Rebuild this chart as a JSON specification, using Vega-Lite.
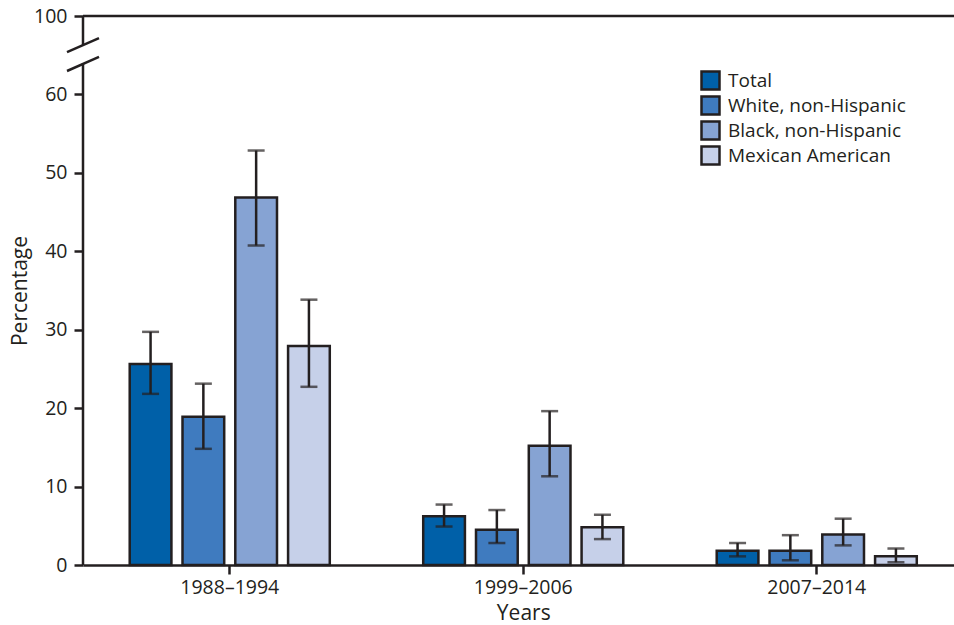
{
  "$schema": "https://vega.github.io/schema/vega-lite/v6.json",
  "width": 871,
  "height": 549,
  "autosize": {"type": "none"},
  "padding": {"left": 83, "top": 16, "right": 0, "bottom": 60},
  "background": "white",
  "config": {
    "view": {"stroke": null},
    "font": "Open Sans",
    "axis": {"labelFont": "Open Sans", "titleFont": "Open Sans", "labelColor": "#231F20", "titleColor": "#231F20", "labelFontSize": 19.5, "titleFontSize": 21, "titleFontWeight": "normal", "tickColor": "#231F20", "tickWidth": 2.5, "domainColor": "#231F20", "domainWidth": 2.5, "grid": false},
    "legend": {"labelFont": "Open Sans", "labelFontSize": 19, "labelColor": "#231F20", "labelLimit": 400}
  },
  "datasets": {
    "bars": [
      {"period": "1988–1994", "group": "Total", "pct": 25.6, "lo": 21.8, "hi": 29.7},
      {"period": "1988–1994", "group": "White, non-Hispanic", "pct": 18.9, "lo": 14.8, "hi": 23.1},
      {"period": "1988–1994", "group": "Black, non-Hispanic", "pct": 46.8, "lo": 40.7, "hi": 52.8},
      {"period": "1988–1994", "group": "Mexican American", "pct": 27.9, "lo": 22.7, "hi": 33.8},
      {"period": "1999–2006", "group": "Total", "pct": 6.2, "lo": 4.9, "hi": 7.7},
      {"period": "1999–2006", "group": "White, non-Hispanic", "pct": 4.5, "lo": 2.8, "hi": 7.0},
      {"period": "1999–2006", "group": "Black, non-Hispanic", "pct": 15.2, "lo": 11.3, "hi": 19.6},
      {"period": "1999–2006", "group": "Mexican American", "pct": 4.8, "lo": 3.3, "hi": 6.4},
      {"period": "2007–2014", "group": "Total", "pct": 1.8, "lo": 1.1, "hi": 2.8},
      {"period": "2007–2014", "group": "White, non-Hispanic", "pct": 1.8, "lo": 0.6, "hi": 3.8},
      {"period": "2007–2014", "group": "Black, non-Hispanic", "pct": 3.9, "lo": 2.5, "hi": 5.9},
      {"period": "2007–2014", "group": "Mexican American", "pct": 1.1, "lo": 0.35, "hi": 2.1}
    ],
    "axisline": [
      {"y": 0, "y2": 75.9},
      {"y": 85.1, "y2": 100}
    ],
    "slashes": [
      {"y": 81.5, "y2": 88.7},
      {"y": 71.8, "y2": 79.0}
    ]
  },
  "layer": [
    {
      "data": {"name": "bars"},
      "mark": {"type": "bar", "stroke": "#231F20", "strokeWidth": 2.5},
      "encoding": {
        "x": {"field": "period", "type": "nominal", "title": "Years",
              "scale": {"range": [0, 880.5], "paddingInner": 0, "paddingOuter": 0},
              "axis": {"labelAngle": 0, "tickSize": 9, "labelPadding": 4, "titlePadding": 6}},
        "xOffset": {"field": "group", "type": "nominal",
                    "scale": {"domain": ["Total", "White, non-Hispanic", "Black, non-Hispanic", "Mexican American"], "paddingInner": 0.21, "paddingOuter": 0.885}},
        "y": {"field": "pct", "type": "quantitative", "title": "Percentage",
              "scale": {"type": "linear", "domain": [0, 60, 100], "range": [549, 78, 0], "zero": false, "nice": false},
              "axis": {"values": [0, 10, 20, 30, 40, 50, 60, 100], "domain": false, "tickSize": 9, "labelPadding": 7, "titlePadding": 3}},
        "fill": {"field": "group", "type": "nominal", "title": null,
                 "scale": {"domain": ["Total", "White, non-Hispanic", "Black, non-Hispanic", "Mexican American"],
                           "range": ["#0060A8", "#3F7BBF", "#86A3D3", "#C6D0E9"]},
                 "legend": {"orient": "none", "legendX": 617, "legendY": 54, "symbolType": "square", "symbolSize": 324, "symbolStrokeColor": "#231F20", "symbolStrokeWidth": 2.5, "rowPadding": -4, "labelOffset": 7, "padding": 0}}
      }
    },
    {
      "data": {"name": "bars"},
      "mark": {"type": "rule", "color": "#231F20", "strokeWidth": 2.5},
      "encoding": {
        "x": {"field": "period", "type": "nominal"},
        "xOffset": {"field": "group", "type": "nominal"},
        "y": {"field": "lo", "type": "quantitative"},
        "y2": {"field": "hi"}
      }
    },
    {
      "data": {"name": "bars"},
      "mark": {"type": "tick", "orient": "horizontal", "color": "#231F20", "size": 17, "thickness": 2.5},
      "encoding": {
        "x": {"field": "period", "type": "nominal"},
        "xOffset": {"field": "group", "type": "nominal"},
        "y": {"field": "lo", "type": "quantitative"}
      }
    },
    {
      "data": {"name": "bars"},
      "mark": {"type": "tick", "orient": "horizontal", "color": "#231F20", "size": 17, "thickness": 2.5},
      "encoding": {
        "x": {"field": "period", "type": "nominal"},
        "xOffset": {"field": "group", "type": "nominal"},
        "y": {"field": "hi", "type": "quantitative"}
      }
    },
    {
      "data": {"values": [{"top": 100}]},
      "mark": {"type": "rule", "color": "#231F20", "strokeWidth": 2.5},
      "encoding": {"y": {"field": "top", "type": "quantitative"}}
    },
    {
      "data": {"name": "axisline"},
      "mark": {"type": "rule", "color": "#231F20", "strokeWidth": 2.5},
      "encoding": {
        "x": {"value": 0},
        "y": {"field": "y", "type": "quantitative"},
        "y2": {"field": "y2"}
      }
    },
    {
      "data": {"name": "slashes"},
      "mark": {"type": "rule", "color": "#231F20", "strokeWidth": 2.5},
      "encoding": {
        "x": {"value": -16},
        "x2": {"value": 16},
        "y": {"field": "y", "type": "quantitative"},
        "y2": {"field": "y2"}
      }
    }
  ],
  "resolve": {"scale": {"y": "shared"}}
}
